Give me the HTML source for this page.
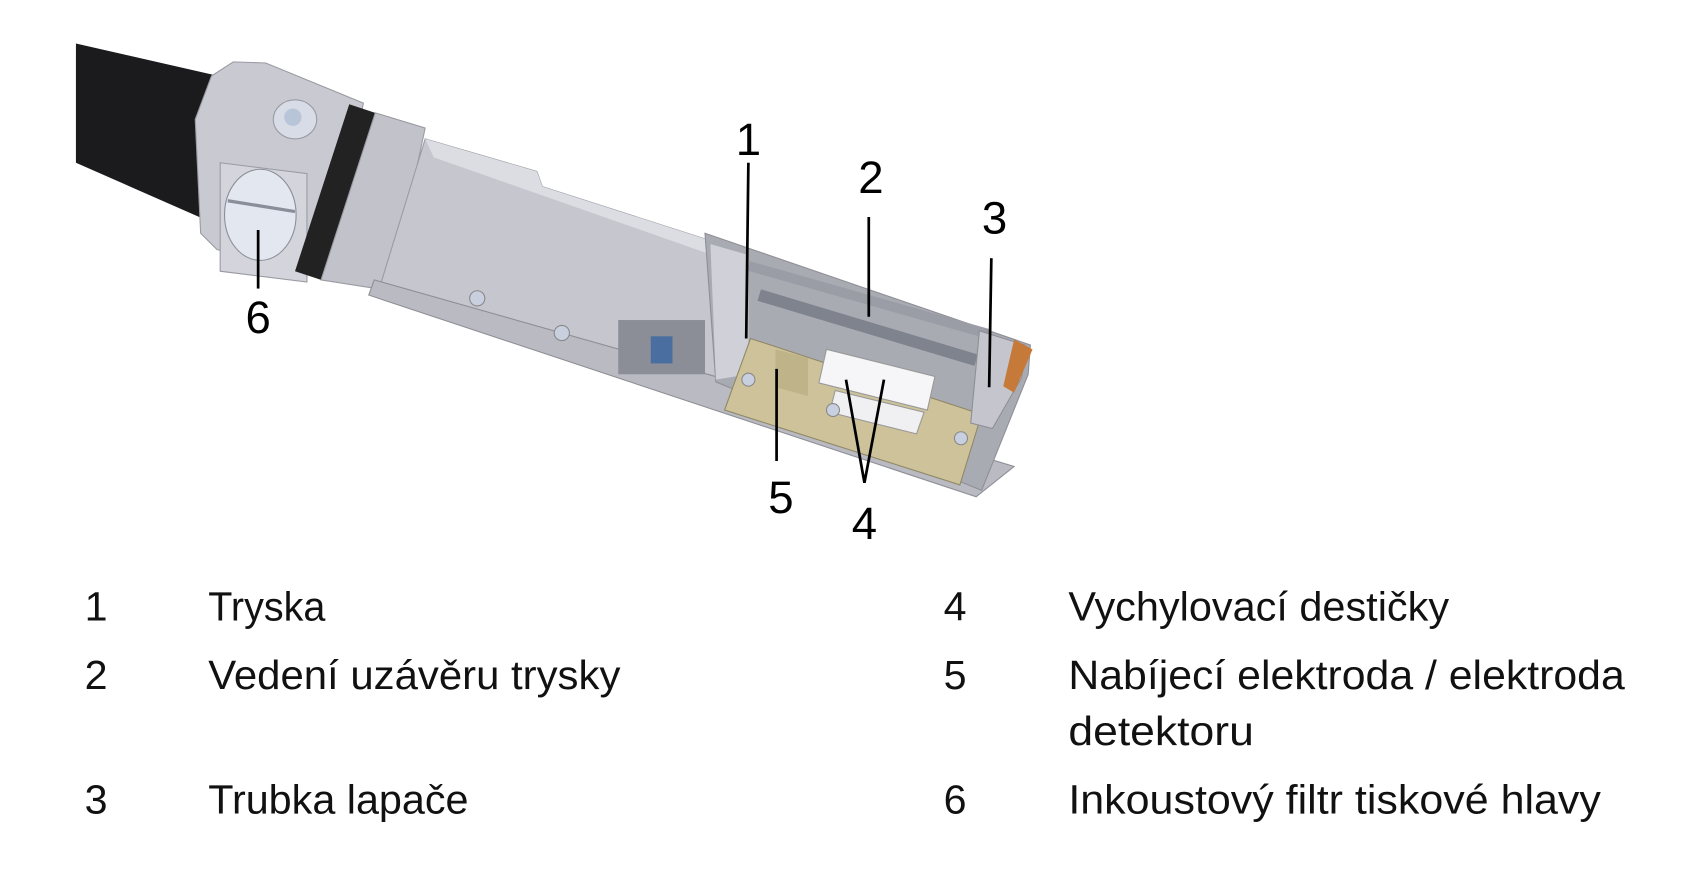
<!DOCTYPE html>
<html><head><meta charset="utf-8"><style>
html,body{margin:0;padding:0;background:#fff;}
svg{display:block;}
</style></head><body>
<svg width="1692" height="870" viewBox="0 0 1560 802" xmlns="http://www.w3.org/2000/svg">
<rect width="1560" height="802" fill="#fff"/>
<!-- cable -->
<polygon points="70,40 210,72 195,205 70,150" fill="#1b1b1d"/>
<!-- collar -->
<polygon points="195,70 215,57 245,58 335,95 305,255 200,230 185,215 180,110" fill="#c9cad1" stroke="#9a9aa2"/>
<polygon points="203,150 283,160 283,260 203,250" fill="#d4d5dc" stroke="#9a9aa2"/>
<ellipse cx="240" cy="198" rx="33" ry="42" fill="#e2e7f0" stroke="#8a8e98"/>
<line x1="210" y1="185" x2="272" y2="195" stroke="#8a8e98" stroke-width="3"/>
<ellipse cx="272" cy="110" rx="20" ry="18" fill="#d8dce6" stroke="#9a9aa2"/>
<circle cx="270" cy="108" r="8" fill="#b8c4d8"/>
<!-- black band -->
<polygon points="322,96 346,104 296,258 272,250" fill="#222"/>
<!-- cylinder -->
<polygon points="346,104 392,118 360,268 296,258" fill="#c2c3ca" stroke="#9a9aa2"/>
<!-- main housing -->
<polygon points="392,128 495,158 500,172 665,225 670,350 350,265" fill="#c6c7ce" stroke="#9a9aa2"/>
<polygon points="392,128 495,158 500,172 665,225 665,238 400,145" fill="#dcdde3"/>
<!-- base rail -->
<polygon points="345,258 670,350 935,430 900,458 340,272" fill="#b9bac2" stroke="#8e8e96"/>
<!-- open section -->
<polygon points="650,215 950,318 948,345 905,452 660,352" fill="#a9abb3" stroke="#8e8e96"/>
<polygon points="655,225 690,235 690,345 660,350" fill="#d0d1d8"/>
<line x1="690" y1="245" x2="912" y2="308" stroke="#9a9ca6" stroke-width="9"/>
<line x1="700" y1="272" x2="900" y2="332" stroke="#7f838e" stroke-width="11"/>
<!-- gold plate -->
<polygon points="692,312 905,382 885,447 668,378" fill="#cdc299" stroke="#8f8866"/>
<polygon points="715,322 745,330 745,365 715,357" fill="#bfb38a"/>
<polygon points="762,322 862,347 855,378 755,353" fill="#f6f6f8" stroke="#999"/>
<polygon points="770,360 852,380 845,400 765,380" fill="#f0f0f2" stroke="#999"/>
<!-- right end -->
<polygon points="903,305 945,318 942,348 915,395 895,390" fill="#c5c6cd" stroke="#8e8e96"/>
<polygon points="935,313 952,322 935,362 925,356" fill="#c67a3a"/>
<!-- small parts -->
<rect x="570" y="295" width="80" height="50" fill="#8b8e96"/>
<rect x="600" y="310" width="20" height="25" fill="#4a6ea0"/>
<circle cx="440" cy="275" r="7" fill="#c8d0e0" stroke="#888"/>
<circle cx="518" cy="307" r="7" fill="#c8d0e0" stroke="#888"/>
<circle cx="768" cy="378" r="6" fill="#c8d0e0" stroke="#888"/>
<circle cx="886" cy="404" r="6" fill="#c8d0e0" stroke="#888"/>
<circle cx="690" cy="350" r="6" fill="#c8d0e0" stroke="#888"/>
<!-- leaders -->
<g stroke="#000" stroke-width="2.5" fill="none">
<line x1="690" y1="150" x2="688" y2="312"/>
<line x1="801" y1="200" x2="801" y2="292"/>
<line x1="914" y1="238" x2="912" y2="357"/>
<line x1="238" y1="212" x2="238" y2="266"/>
<line x1="716" y1="340" x2="716" y2="425"/>
<polyline points="780,350 797,445 815,350"/>
</g>
<g font-family="Liberation Sans, Arial, sans-serif" font-size="42" text-anchor="middle" fill="#000">
<text x="690" y="143">1</text>
<text x="803" y="178">2</text>
<text x="917" y="215">3</text>
<text x="238" y="307">6</text>
<text x="720" y="473">5</text>
<text x="797" y="497">4</text>
</g>
<g font-family="Liberation Sans, Arial, sans-serif" font-size="38" fill="#111" lengthAdjust="spacingAndGlyphs">
<text x="78" y="572">1</text>
<text x="192" y="572" textLength="108" lengthAdjust="spacingAndGlyphs">Tryska</text>
<text x="78" y="635">2</text>
<text x="192" y="635" textLength="380" lengthAdjust="spacingAndGlyphs">Vedení uzávěru trysky</text>
<text x="78" y="750">3</text>
<text x="192" y="750" textLength="240" lengthAdjust="spacingAndGlyphs">Trubka lapače</text>
<text x="870" y="572">4</text>
<text x="985" y="572" textLength="351" lengthAdjust="spacingAndGlyphs">Vychylovací destičky</text>
<text x="870" y="635">5</text>
<text x="985" y="635" textLength="513" lengthAdjust="spacingAndGlyphs">Nabíjecí elektroda / elektroda</text>
<text x="985" y="687" textLength="171" lengthAdjust="spacingAndGlyphs">detektoru</text>
<text x="870" y="750">6</text>
<text x="985" y="750" textLength="491" lengthAdjust="spacingAndGlyphs">Inkoustový filtr tiskové hlavy</text>
</g>
</svg>
</body></html>
